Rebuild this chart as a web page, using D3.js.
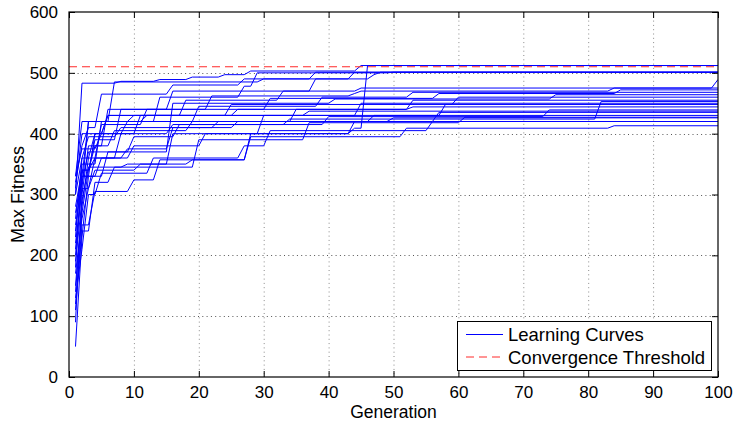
<!DOCTYPE html>
<html>
<head>
<meta charset="utf-8">
<script src="https://cdn.jsdelivr.net/npm/d3@7"></script>
<style>
  html, body { margin: 0; padding: 0; background: #fff; }
  svg { display: block; font-family: "Liberation Sans", Arial, Helvetica, sans-serif; }
</style>
</head>
<body>
<svg id="chart" width="735" height="423"></svg>
<script>
// Axis ticks
const xTicks = [0, 10, 20, 30, 40, 50, 60, 70, 80, 90, 100];
const yTicks = [0, 100, 200, 300, 400, 500, 600];

// Convergence threshold (max fitness)
const threshold = 510;

// Learning curves: [generation, best fitness] at each generation where the best fitness improved.
// The value is held until the next improvement; the last value holds to generation 100.
const run01 = [[1, 300], [2, 483], [8, 486], [14, 489], [19, 493], [24, 497], [28, 503], [45, 512]];
const run02 = [[1, 120], [2, 250], [4, 305], [10, 324], [14, 357], [28, 400], [44, 409], [46, 512]];
const run03 = [[1, 200], [2, 330], [3, 420], [7, 485], [30, 490], [47, 497], [48, 501]];
const run04 = [[1, 260], [2, 350], [5, 420], [14, 460], [27, 478], [29, 500], [50, 501]];
const run05 = [[1, 180], [2, 340], [4, 390], [8, 440], [16, 470], [38, 490], [44, 501]];
const run06 = [[1, 310], [2, 400], [6, 430], [18, 455], [33, 470], [45, 475], [100, 489]];
const run07 = [[1, 90], [2, 300], [3, 380], [6, 440], [22, 462], [44, 466], [45, 470], [84, 475]];
const run08 = [[1, 150], [2, 280], [3, 360], [5, 415], [12, 440], [31, 458], [57, 466], [85, 472]];
const run09 = [[1, 230], [2, 360], [4, 400], [9, 420], [20, 445], [39, 460], [53, 468]];
const run10 = [[1, 50], [2, 230], [3, 330], [6, 370], [16, 450], [41, 457], [75, 464]];
const run11 = [[1, 330], [2, 375], [5, 400], [11, 430], [25, 448], [60, 460]];
const run12 = [[1, 280], [2, 340], [4, 380], [7, 405], [19, 420], [35, 440], [53, 455]];
const run13 = [[1, 210], [2, 310], [4, 360], [8, 400], [16, 415], [34, 424], [82, 453]];
const run14 = [[1, 250], [2, 320], [3, 370], [10, 395], [17, 415], [40, 428], [74, 439]];
const run15 = [[1, 140], [2, 270], [3, 340], [4, 360], [10, 380], [21, 400], [44, 420], [57, 435]];
const run16 = [[1, 300], [2, 360], [3, 395], [8, 410], [23, 420], [47, 430]];
const run17 = [[1, 110], [2, 240], [4, 320], [7, 345], [20, 390], [37, 418], [61, 427]];
const run18 = [[1, 270], [2, 330], [5, 360], [9, 375], [16, 410], [26, 420], [50, 426]];
const run19 = [[1, 190], [2, 290], [3, 345], [9, 350], [19, 357], [28, 395], [52, 409], [84, 413]];
const run20 = [[1, 240], [2, 330], [4, 400], [6, 430], [26, 440], [53, 444]];
const run21 = [[1, 320], [2, 380], [3, 410], [5, 465], [16, 480], [27, 490], [38, 501]];
const run22 = [[1, 170], [2, 260], [3, 310], [4, 340], [11, 350], [16, 400], [30, 430], [58, 448]];
const run23 = [[1, 220], [2, 310], [3, 420], [10, 430], [45, 450]];
const run24 = [[1, 130], [2, 210], [3, 300], [5, 335], [13, 360], [27, 380], [31, 405], [56, 420]];
const run25 = [[1, 330], [2, 420], [12, 430], [37, 437]];

const runs = [run01, run02, run03, run04, run05, run06, run07, run08, run09, run10,
              run11, run12, run13, run14, run15, run16, run17, run18, run19, run20,
              run21, run22, run23, run24, run25];

const lastGeneration = 100;

// Layout
const W = 735, H = 423;
const margin = { left: 69, right: 17, top: 12, bottom: 46 };
const svg = d3.select("#chart");

const x = d3.scaleLinear().domain([0, 100]).range([margin.left, W - margin.right]);
const y = d3.scaleLinear().domain([0, 600]).range([H - margin.bottom, margin.top]);

const x0 = x.range()[0], x1 = x.range()[1];
const yB = y.range()[0], yT = y.range()[1];

// Clip region for the data
svg.append("defs").append("clipPath").attr("id", "plotClip")
  .append("rect").attr("x", x0).attr("y", yT).attr("width", x1 - x0).attr("height", yB - yT);

// Dotted grid
const grid = svg.append("g").attr("class", "grid");
grid.selectAll("line.gx").data(xTicks.filter(t => t > 0 && t < 100)).join("line")
  .attr("class", "gx")
  .attr("x1", d => x(d) + 0.5).attr("x2", d => x(d) + 0.5)
  .attr("y1", yT).attr("y2", yB)
  .attr("stroke", "#8a8a8a").attr("stroke-width", 1).attr("stroke-dasharray", "1,3.3");
grid.selectAll("line.gy").data(yTicks.filter(t => t > 0 && t < 600)).join("line")
  .attr("class", "gy")
  .attr("x1", x0).attr("x2", x1)
  .attr("y1", d => Math.round(y(d)) + 0.5).attr("y2", d => Math.round(y(d)) + 0.5)
  .attr("stroke", "#555").attr("stroke-width", 1).attr("stroke-dasharray", "1,3.3");

// Build the polyline for each run: the best value holds, and each improvement
// is drawn as a segment from the previous generation to the improving one.
function runPoints(run) {
  const pts = [[run[0][0], run[0][1]]];
  for (let i = 1; i < run.length; i++) {
    const [g, v] = run[i];
    const prev = run[i - 1][1];
    if (g - 1 > pts[pts.length - 1][0]) pts.push([g - 1, prev]);
    pts.push([g, v]);
  }
  const last = run[run.length - 1];
  if (last[0] < lastGeneration) pts.push([lastGeneration, last[1]]);
  return pts;
}

const line = d3.line().x(d => x(d[0])).y(d => y(d[1]));

const plot = svg.append("g").attr("clip-path", "url(#plotClip)");
plot.selectAll("path.run").data(runs).join("path")
  .attr("class", "run")
  .attr("d", d => line(runPoints(d)))
  .attr("fill", "none")
  .attr("stroke", "#0000ff")
  .attr("stroke-width", 1);

// Convergence threshold
plot.append("line")
  .attr("x1", x(0)).attr("x2", x(100))
  .attr("y1", y(threshold)).attr("y2", y(threshold))
  .attr("stroke", "#ff2a2a").attr("stroke-width", 1)
  .attr("stroke-dasharray", "8,5");

// Axes with inward ticks on all four sides
const tickLen = 6;
const xAxisB = d3.axisBottom(x).tickValues(xTicks).tickSize(-tickLen).tickPadding(9).tickFormat(d3.format("d"));
const xAxisT = d3.axisTop(x).tickValues(xTicks).tickSize(-tickLen).tickFormat("");
const yAxisL = d3.axisLeft(y).tickValues(yTicks).tickSize(-tickLen).tickPadding(11).tickFormat(d3.format("d"));
const yAxisR = d3.axisRight(y).tickValues(yTicks).tickSize(-tickLen).tickFormat("");

function styleAxis(g) {
  g.select(".domain").remove();
  g.selectAll(".tick line").attr("stroke", "#000").attr("stroke-width", 1);
  g.selectAll(".tick text").attr("fill", "#000").style("font-size", "17px")
    .style("font-family", "'Liberation Sans', Arial, sans-serif");
}

svg.append("g").attr("transform", `translate(0,${yB})`).call(xAxisB).call(styleAxis);
svg.append("g").attr("transform", `translate(0,${yT})`).call(xAxisT).call(styleAxis);
svg.append("g").attr("transform", `translate(${x0},0)`).call(yAxisL).call(styleAxis);
svg.append("g").attr("transform", `translate(${x1},0)`).call(yAxisR).call(styleAxis);

// Box
svg.append("rect")
  .attr("x", x0).attr("y", yT).attr("width", x1 - x0).attr("height", yB - yT)
  .attr("fill", "none").attr("stroke", "#000").attr("stroke-width", 1.2);

// Axis titles
svg.append("text")
  .attr("x", (x0 + x1) / 2).attr("y", 418)
  .attr("text-anchor", "middle")
  .style("font-size", "17.5px")
  .text("Generation");

svg.append("text")
  .attr("transform", `translate(24,${(yT + yB) / 2}) rotate(-90)`)
  .attr("text-anchor", "middle")
  .style("font-size", "18px")
  .text("Max Fitness");

// Legend
const lg = svg.append("g").attr("class", "legend");
lg.append("rect")
  .attr("x", 457.5).attr("y", 321.5).attr("width", 254).attr("height", 49)
  .attr("fill", "#fff").attr("stroke", "#000").attr("stroke-width", 1);
const legendItems = [
  { label: "Learning Curves", color: "#0000ff", dash: null },
  { label: "Convergence Threshold", color: "#ff2a2a", dash: "8,5" }
];
legendItems.forEach((it, i) => {
  const cy = 334.5 + i * 22.5;
  lg.append("line")
    .attr("x1", 466).attr("x2", 503).attr("y1", cy).attr("y2", cy)
    .attr("stroke", it.color).attr("stroke-width", 1)
    .attr("stroke-dasharray", it.dash);
  lg.append("text")
    .attr("x", 508).attr("y", cy + 6.5)
    .style("font-size", "18.5px")
    .text(it.label);
});
</script>
</body>
</html>
